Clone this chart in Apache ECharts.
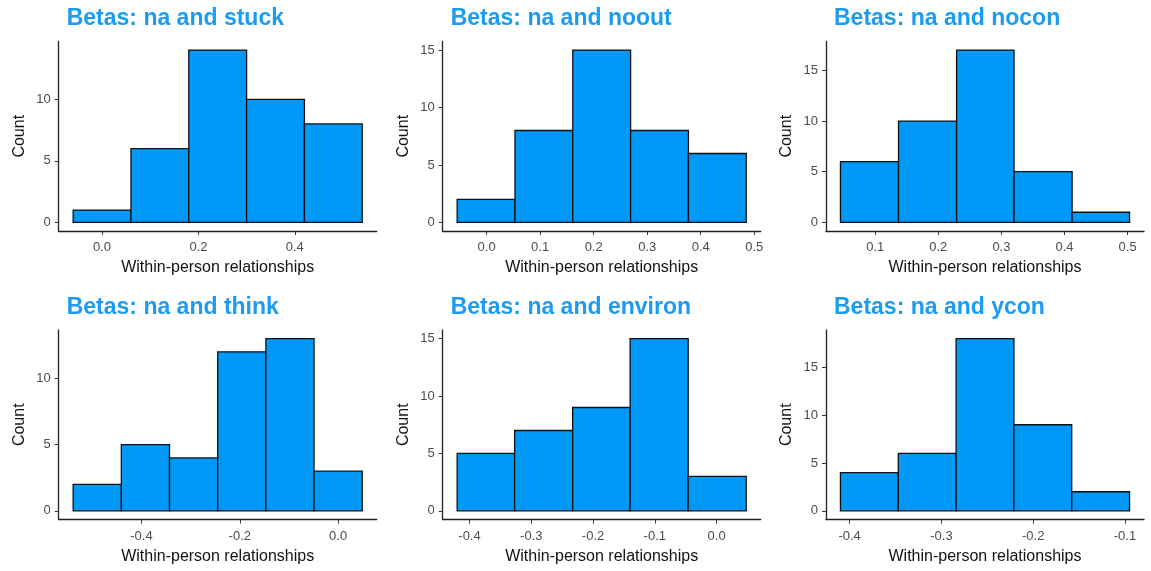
<!DOCTYPE html>
<html>
<head>
<meta charset="utf-8">
<script src="https://cdn.jsdelivr.net/npm/echarts@6/dist/echarts.min.js"></script>
<style>
  html, body { margin: 0; padding: 0; background: #fff; }
  #chart { width: 1151px; height: 571px; }
</style>
</head>
<body>
<div id="chart"></div>
<script>
// panel titles
const titles = [
  'Betas: na and stuck', 'Betas: na and noout', 'Betas: na and nocon',
  'Betas: na and think', 'Betas: na and environ', 'Betas: na and ycon'
];

// bin edges and counts
const stuckEdges = [-0.06, 0.06, 0.18, 0.30, 0.42, 0.54];
const stuckCounts = [1, 6, 14, 10, 8];
const nooutEdges = [-0.055, 0.053, 0.161, 0.269, 0.377, 0.485];
const nooutCounts = [2, 8, 15, 8, 6];
const noconEdges = [0.045, 0.137, 0.229, 0.320, 0.412, 0.503];
const noconCounts = [6, 10, 17, 5, 1];
const thinkEdges = [-0.539, -0.441, -0.343, -0.245, -0.147, -0.049, 0.049];
const thinkCounts = [2, 5, 4, 12, 13, 3];
const environEdges = [-0.420, -0.327, -0.233, -0.140, -0.046, 0.048];
const environCounts = [5, 7, 9, 15, 3];
const yconEdges = [-0.410, -0.347, -0.284, -0.221, -0.158, -0.095];
const yconCounts = [4, 6, 18, 9, 2];

// tick labels
const stuckXTicks = [0.0, 0.2, 0.4];
const nooutXTicks = [0.0, 0.1, 0.2, 0.3, 0.4, 0.5];
const noconXTicks = [0.1, 0.2, 0.3, 0.4, 0.5];
const thinkXTicks = [-0.4, -0.2, 0.0];
const environXTicks = [-0.4, -0.3, -0.2, -0.1, 0.0];
const yconXTicks = [-0.4, -0.3, -0.2, -0.1];
const stuckYTicks = [0, 5, 10];
const nooutYTicks = [0, 5, 10, 15];
const noconYTicks = [0, 5, 10, 15];
const thinkYTicks = [0, 5, 10];
const environYTicks = [0, 5, 10, 15];
const yconYTicks = [0, 5, 10, 15];

const panels = [
  { edges: stuckEdges, counts: stuckCounts, xTicks: stuckXTicks, yTicks: stuckYTicks },
  { edges: nooutEdges, counts: nooutCounts, xTicks: nooutXTicks, yTicks: nooutYTicks },
  { edges: noconEdges, counts: noconCounts, xTicks: noconXTicks, yTicks: noconYTicks },
  { edges: thinkEdges, counts: thinkCounts, xTicks: thinkXTicks, yTicks: thinkYTicks },
  { edges: environEdges, counts: environCounts, xTicks: environXTicks, yTicks: environYTicks },
  { edges: yconEdges, counts: yconCounts, xTicks: yconXTicks, yTicks: yconYTicks }
];

const FONT = '"Liberation Sans", Arial, sans-serif';
const lefts = [58.7, 442.7, 826];
const tops = [41.5, 330];
const W = 318;
const H = 189.5;

const chart = echarts.init(document.getElementById('chart'));

const grid = [], xAxis = [], yAxis = [], series = [], title = [];

panels.forEach((p, i) => {
  const col = i % 3;
  const row = Math.floor(i / 3);
  const lo = p.edges[0];
  const hi = p.edges[p.edges.length - 1];
  const maxC = Math.max.apply(null, p.counts);
  // ggplot style 5% expansion
  const xPad = (hi - lo) * 0.05;
  const yPad = maxC * 0.05;

  grid.push({ left: lefts[col], top: tops[row], width: W, height: H });

  title.push({
    text: titles[i],
    left: lefts[col] + 8,
    top: tops[row] - 34,
    padding: 0,
    textStyle: { color: '#1b9cf2', fontSize: 23, fontWeight: 'bold', fontFamily: FONT }
  });

  xAxis.push({
    type: 'value',
    gridIndex: i,
    min: lo - xPad,
    max: hi + xPad,
    name: 'Within-person relationships',
    nameLocation: 'middle',
    nameGap: 29,
    nameTextStyle: { color: '#111', fontSize: 16, fontFamily: FONT },
    axisLine: { show: true, onZero: false, lineStyle: { color: '#222', width: 1.3 } },
    axisTick: { show: true, length: 4, customValues: p.xTicks, lineStyle: { color: '#333' } },
    axisLabel: {
      customValues: p.xTicks,
      color: '#4d4d4d',
      fontSize: 13,
      fontFamily: FONT,
      margin: 10,
      formatter: v => v.toFixed(1)
    },
    splitLine: { show: false }
  });

  yAxis.push({
    type: 'value',
    gridIndex: i,
    min: -yPad,
    max: maxC + yPad,
    name: 'Count',
    nameLocation: 'middle',
    nameGap: 31,
    nameTextStyle: { color: '#111', fontSize: 16, fontFamily: FONT },
    axisLine: { show: true, onZero: false, lineStyle: { color: '#222', width: 1.3 } },
    axisTick: { show: true, length: 4, customValues: p.yTicks, lineStyle: { color: '#333' } },
    axisLabel: {
      customValues: p.yTicks,
      color: '#4d4d4d',
      fontSize: 13,
      fontFamily: FONT,
      margin: 8
    },
    splitLine: { show: false }
  });

  const data = p.counts.map((c, k) => [p.edges[k], p.edges[k + 1], c]);
  series.push({
    type: 'custom',
    xAxisIndex: i,
    yAxisIndex: i,
    encode: { x: [0, 1], y: 2 },
    data: data,
    renderItem: (params, api) => {
      const a = api.coord([api.value(0), api.value(2)]);
      const b = api.coord([api.value(1), 0]);
      return {
        type: 'rect',
        shape: { x: a[0], y: a[1], width: b[0] - a[0], height: b[1] - a[1] },
        style: { fill: '#0099f7', stroke: '#111', lineWidth: 1.3 }
      };
    }
  });
});

chart.setOption({
  animation: false,
  backgroundColor: '#fff',
  title: title,
  grid: grid,
  xAxis: xAxis,
  yAxis: yAxis,
  series: series
});
</script>
</body>
</html>
